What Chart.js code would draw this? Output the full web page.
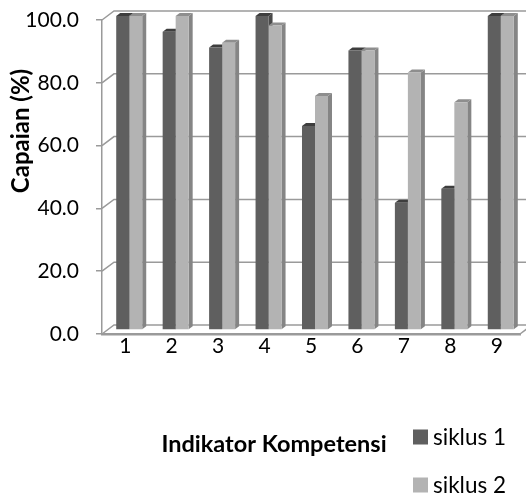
<!DOCTYPE html>
<html>
<head>
<meta charset="utf-8">
<script src="https://cdn.jsdelivr.net/npm/chart.js@4/dist/chart.umd.min.js"></script>
<style>
  html, body { margin: 0; padding: 0; background: #ffffff; }
  #wrap { width: 526px; height: 494px; }
</style>
</head>
<body>
<div id="wrap"><canvas id="c" width="526" height="494"></canvas></div>
<script>
const categories = ['1', '2', '3', '4', '5', '6', '7', '8', '9'];
const siklus1 = [100, 95, 90, 100, 65, 89, 40.5, 45, 100];
const siklus2 = [100, 100, 91.5, 97, 74.5, 89, 82, 72.5, 100];
const seriesNames = ['siklus 1', 'siklus 2'];
const yTicks = [0, 20, 40, 60, 80, 100];
const yTitle = 'Capaian (%)';
const xTitle = 'Indikator Kompetensi';

const FONT = 'Lato, "Open Sans", sans-serif';
const FRONT = ['#5f5f5f', '#b3b3b3'];
const SIDE = ['#4a4a4a', '#858585'];
const TOP = ['#3e3e3e', '#8e8e8e'];
const GRID = '#9a9a9a';

// 3D offsets
const BAR_SHIFT = { x: 4, y: -4 };   // bars sit in the middle of the depth
const BAR_DEPTH = { x: 4, y: -3 };   // depth of each bar
const WALL = { x: 12, y: -9 };       // back wall offset from the front plane

const threeD = {
  id: 'threeD',
  beforeDatasetsDraw(chart) {
    const ctx = chart.ctx;
    const ys = chart.scales.y;
    const area = chart.chartArea;
    ctx.save();
    ctx.strokeStyle = GRID;
    ctx.lineWidth = 1.5;
    yTicks.forEach(v => {
      const yf = ys.getPixelForValue(v);
      ctx.beginPath();
      ctx.moveTo(area.left, yf);
      ctx.lineTo(area.left + WALL.x, yf + WALL.y);
      ctx.lineTo(chart.width, yf + WALL.y);
      ctx.stroke();
    });
    const y0 = ys.getPixelForValue(0);
    ctx.beginPath();
    ctx.moveTo(area.right, y0);
    ctx.lineTo(area.right + WALL.x, y0 + WALL.y);
    ctx.stroke();

    const faces = [];
    chart.data.datasets.forEach((ds, di) => {
      const meta = chart.getDatasetMeta(di);
      meta.data.forEach(el => {
        const p = el.getProps(['x', 'y', 'base', 'width'], true);
        faces.push({
          di,
          l: p.x - p.width / 2 + BAR_SHIFT.x,
          r: p.x + p.width / 2 + BAR_SHIFT.x,
          t: p.y + BAR_SHIFT.y,
          b: p.base + BAR_SHIFT.y
        });
      });
    });
    faces.forEach(f => {
      ctx.fillStyle = SIDE[f.di];
      ctx.beginPath();
      ctx.moveTo(f.r, f.t);
      ctx.lineTo(f.r + BAR_DEPTH.x, f.t + BAR_DEPTH.y);
      ctx.lineTo(f.r + BAR_DEPTH.x, f.b + BAR_DEPTH.y);
      ctx.lineTo(f.r, f.b);
      ctx.closePath();
      ctx.fill();
    });
    faces.forEach(f => {
      ctx.fillStyle = TOP[f.di];
      ctx.beginPath();
      ctx.moveTo(f.l, f.t);
      ctx.lineTo(f.l + BAR_DEPTH.x, f.t + BAR_DEPTH.y);
      ctx.lineTo(f.r + BAR_DEPTH.x, f.t + BAR_DEPTH.y);
      ctx.lineTo(f.r, f.t);
      ctx.closePath();
      ctx.fill();
    });
    ctx.restore();
  },
  beforeDatasetDraw(chart) {
    chart.ctx.save();
    chart.ctx.translate(BAR_SHIFT.x, BAR_SHIFT.y);
  },
  afterDatasetDraw(chart) {
    chart.ctx.restore();
  },
  afterDraw(chart) {
    const ctx = chart.ctx;
    ctx.save();
    ctx.fillStyle = '#000000';
    ctx.textAlign = 'center';
    ctx.textBaseline = 'middle';
    ctx.font = 'bold 24px ' + FONT;
    ctx.save();
    ctx.translate(21, 131);
    ctx.rotate(-Math.PI / 2);
    ctx.fillText(yTitle, 0, 0);
    ctx.restore();
    ctx.font = 'bold 23.5px ' + FONT;
    ctx.fillText(xTitle, 274, 444);
    ctx.font = '22.5px ' + FONT;
    ctx.textAlign = 'left';
    const ly = [437, 485];
    seriesNames.forEach((name, i) => {
      ctx.fillStyle = FRONT[i];
      ctx.fillRect(413, ly[i] - 7.5, 15, 15);
      ctx.fillStyle = '#000000';
      ctx.fillText(name, 433, ly[i] + 1);
    });
    ctx.restore();
  }
};

new Chart(document.getElementById('c'), {
  type: 'bar',
  data: {
    labels: categories,
    datasets: [
      { label: seriesNames[0], data: siklus1, backgroundColor: FRONT[0], borderWidth: 0 },
      { label: seriesNames[1], data: siklus2, backgroundColor: FRONT[1], borderWidth: 0 }
    ]
  },
  options: {
    responsive: false,
    animation: false,
    devicePixelRatio: 1,
    layout: { padding: { left: 0, right: 6, top: 20, bottom: 0 } },
    datasets: { bar: { categoryPercentage: 0.56, barPercentage: 1 } },
    plugins: { legend: { display: false }, tooltip: { enabled: false } },
    scales: {
      x: {
        grid: { display: true, drawOnChartArea: false, drawTicks: false },
        border: { display: true, color: GRID, width: 2.5 },
        ticks: { color: '#000', font: { family: FONT, size: 21 }, padding: 0 },
        afterFit(s) { s.height = 160; s.paddingLeft = 0; s.paddingRight = 0; }
      },
      y: {
        min: 0, max: 100,
        afterBuildTicks(s) { s.ticks = yTicks.map(v => ({ value: v })); },
        grid: { display: true, drawOnChartArea: false, drawTicks: true, tickLength: 6, color: GRID, lineWidth: 1.5 },
        border: { display: true, color: GRID, width: 1.5 },
        ticks: { color: '#000', font: { family: FONT, size: 21 }, padding: 17, callback: v => Number(v).toFixed(1) },
        afterFit(s) { s.width = 102; s.paddingTop = 0; s.paddingBottom = 0; }
      }
    }
  },
  plugins: [threeD]
});
</script>
</body>
</html>
